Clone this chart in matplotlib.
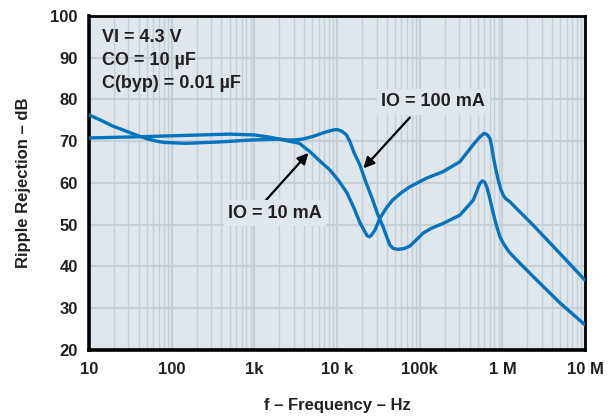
import matplotlib
matplotlib.use("Agg")
import matplotlib.pyplot as plt
from matplotlib.ticker import FixedLocator, NullFormatter

plt.rcParams['font.family'] = ['Liberation Sans', 'DejaVu Sans']
plt.rcParams['font.weight'] = 'bold'

# IO = 10 mA curve (frequency Hz, ripple rejection dB)
f_10ma = [10, 14, 19, 25, 30, 37, 44, 52, 60, 70, 83, 110, 150, 360, 930, 2000,
          3500, 4700, 6000, 8200, 10500, 13200, 16000, 18900, 21700, 23000, 24500,
          26000, 28700, 33000, 40000, 47000, 60000, 76000, 122000, 191000, 306000,
          440000, 520000, 597000, 650000, 706000, 740000, 775000, 830000, 890000,
          950000, 1020000, 1100000, 1230000, 1620000, 2350000, 4500000, 10000000]
db_10ma = [76.3, 75.0, 73.7, 72.8, 72.2, 71.5, 71.0, 70.5, 70.2, 69.9, 69.7, 69.6, 69.5, 69.8, 70.3, 70.5,
           69.5, 67.5, 65.5, 63.1, 60.5, 57.6, 54.0, 50.5, 48.3, 47.4, 47.1,
           47.5, 48.7, 51.6, 54.2, 55.9, 57.7, 59.1, 61.2, 62.7, 65.1,
           69.1, 70.8, 71.9, 71.6, 70.7, 68.8, 66.3, 63.3, 60.7,
           58.6, 57.1, 56.2, 55.5, 53.1, 49.9, 44.0, 36.7]

# IO = 100 mA curve
f_100ma = [10, 30, 100, 500, 1000, 1500, 2000, 2500, 2900, 3500, 4000, 5200, 7000, 9000,
           10000, 11400, 13000, 14300, 16000, 18900, 22000, 27000, 31000, 36000, 40000,
           43600, 48000, 54600, 65000, 76000, 90000, 110000, 140000, 191000, 306000,
           444000, 487000, 530000, 570000, 610000, 645000, 690000, 742000, 800000, 855000,
           930000, 1020000, 1200000, 1480000, 2350000, 5000000, 10000000]
db_100ma = [70.8, 71.0, 71.3, 71.7, 71.5, 71.0, 70.5, 70.3, 70.3, 70.4, 70.6, 71.2, 72.1, 72.7,
            72.8, 72.4, 71.5, 69.9, 67.3, 64.3, 60.5, 55.9, 52.5, 49.5, 47.0,
            45.1, 44.3, 44.1, 44.3, 44.9, 46.3, 48.0, 49.2, 50.3, 52.3,
            55.9, 57.9, 59.8, 60.5, 60.2, 59.1, 57.0, 54.3, 51.6, 49.5,
            47.2, 45.6, 43.5, 41.6, 37.6, 31.2, 26.0]

x_ticks = [10, 100, 1e3, 1e4, 1e5, 1e6, 1e7]
x_labels = ['10', '100', '1k', '10 k', '100k', '1 M', '10 M']
y_ticks = [20, 30, 40, 50, 60, 70, 80, 90, 100]

bg = '#dfe7ed'
grid_c = '#c6ced6'
line_c = '#0573bd'
txt_c = '#231f20'

fig = plt.figure(figsize=(6.14, 4.17), dpi=100)
ax = fig.add_axes([0.145, 0.1607, 0.808, 0.801])
ax.set_facecolor(bg)

for f, db in [(f_10ma, db_10ma), (f_100ma, db_100ma)]:
    ax.plot(f, db, color=line_c, lw=2.4, solid_joinstyle='round',
            solid_capstyle='round', zorder=3)

ax.set_xscale('log')
ax.set_xlim(10, 1e7)
ax.set_ylim(20, 100)
ax.set_xticks(x_ticks)
ax.set_xticklabels(x_labels)
ax.xaxis.set_minor_locator(FixedLocator([m * 10**d for d in range(1, 7) for m in range(2, 10)]))
ax.xaxis.set_minor_formatter(NullFormatter())
ax.set_yticks(y_ticks)

ax.grid(True, which='major', color=grid_c, lw=1.6, zorder=0)
ax.grid(True, which='minor', axis='x', color=grid_c, lw=1.0, zorder=0)
ax.set_axisbelow(True)

ax.tick_params(which='both', length=0, labelsize=12, labelcolor=txt_c)
ax.tick_params(axis='x', pad=9)
ax.tick_params(axis='y', pad=8)
for lab in ax.get_xticklabels() + ax.get_yticklabels():
    lab.set_fontweight('bold')

for s in ax.spines.values():
    s.set_color('black')
    s.set_linewidth(2)
ax.spines['left'].set_linewidth(2.6)
ax.spines['bottom'].set_linewidth(2.6)

ax.set_xlabel('f – Frequency – Hz', fontsize=12, fontweight='bold', color=txt_c, labelpad=15)
ax.set_ylabel('Ripple Rejection – dB', fontsize=12, fontweight='bold', color=txt_c, labelpad=14)

# conditions text
ax.text(0.027, 0.96, 'VI = 4.3 V\nCO = 10 µF\nC(byp) = 0.01 µF', transform=ax.transAxes,
        ha='left', va='top', fontsize=13, fontweight='bold', color=txt_c, linespacing=1.45)

box = dict(boxstyle='square,pad=0.25', facecolor=bg, edgecolor='none')
arrow = dict(arrowstyle='-|>', color='black', lw=1.6, mutation_scale=16, shrinkA=0, shrinkB=0)

ax.annotate('', xy=(20800, 63.5), xytext=(76000, 75.7), arrowprops=arrow, zorder=4)
ax.text(145000, 79.4, 'IO = 100 mA', ha='center', va='center', fontsize=13,
        fontweight='bold', color=txt_c, bbox=box, zorder=5)

ax.annotate('', xy=(4500, 67.2), xytext=(1220, 54.7), arrowprops=arrow, zorder=4)
ax.text(1770, 52.8, 'IO = 10 mA', ha='center', va='center', fontsize=13,
        fontweight='bold', color=txt_c, bbox=box, zorder=5)

fig.savefig('out.png', dpi=100)
